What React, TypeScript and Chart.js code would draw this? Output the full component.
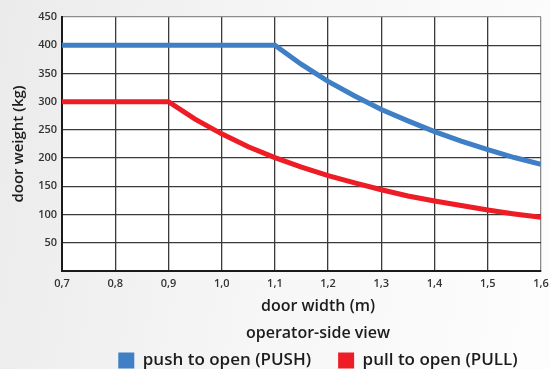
import React, { useEffect, useRef } from 'react';
import { Chart, registerables } from 'chart.js';

Chart.register(...registerables);

// ---- data ----
const xTickLabels = ['0,7', '0,8', '0,9', '1,0', '1,1', '1,2', '1,3', '1,4', '1,5', '1,6'];
const yTickLabels = ['', '50', '100', '150', '200', '250', '300', '350', '400', '450'];

const pushWidths = [0.7, 1.1, 1.15, 1.2, 1.25, 1.3, 1.35, 1.4, 1.45, 1.5, 1.55, 1.6];
const pushWeights = [400, 400, 366, 336, 310, 286, 266, 247, 230, 215, 201, 189];

const pullWidths = [0.7, 0.9, 0.95, 1.0, 1.05, 1.1, 1.15, 1.2, 1.25, 1.3, 1.35, 1.4, 1.45, 1.5, 1.55, 1.6];
const pullWeights = [300, 300, 269, 243, 220, 201, 184, 169, 156, 144, 133, 124, 116, 108, 101, 95];

const seriesLabels = ['push to open (PUSH)', 'pull to open (PULL)'];
const xTitle = 'door width (m)';
const xSubtitle = 'operator-side view';
const yTitle = 'door weight (kg)';

const BLUE = '#3f7fc6';
const RED = '#ee1c25';
const TEXT = '#1c1c1c';
const FONT = '"Open Sans", Roboto, sans-serif';

export default function App() {
  const ref = useRef<HTMLCanvasElement>(null);

  useEffect(() => {
    const canvas = ref.current!;
    const whiteArea = {
      id: 'whiteArea',
      beforeDraw(chart: any) {
        const { ctx, chartArea: a } = chart;
        ctx.save();
        ctx.fillStyle = '#ffffff';
        ctx.fillRect(a.left, a.top, a.right - a.left, a.bottom - a.top);
        ctx.restore();
      },
    };

    const chart = new Chart(canvas, {
      type: 'line',
      data: {
        datasets: [
          {
            label: seriesLabels[0],
            data: pushWidths.map((x, i) => ({ x, y: pushWeights[i] })),
            borderColor: BLUE,
            backgroundColor: BLUE,
            borderWidth: 5,
            pointRadius: 0,
            tension: 0,
            fill: false,
          },
          {
            label: seriesLabels[1],
            data: pullWidths.map((x, i) => ({ x, y: pullWeights[i] })),
            borderColor: RED,
            backgroundColor: RED,
            borderWidth: 5,
            pointRadius: 0,
            tension: 0,
            fill: false,
          },
        ],
      },
      options: {
        responsive: false,
        animation: false,
        devicePixelRatio: 1,
        layout: { padding: { left: 0, right: 0, top: 17, bottom: 0 } },
        plugins: {
          tooltip: { enabled: false },
          legend: {
            position: 'bottom',
            labels: {
              boxWidth: 16,
              boxHeight: 16,
              padding: 10,
              color: TEXT,
              font: { family: FONT, size: 17, weight: '600' },
              generateLabels: (c: any) =>
                c.data.datasets.map((ds: any, i: number) => ({
                  text: i === 0 ? ds.label + '\u2002\u2002' : ds.label,
                  fillStyle: ds.backgroundColor,
                  strokeStyle: ds.backgroundColor,
                  lineWidth: 0,
                  hidden: false,
                  datasetIndex: i,
                  fontColor: TEXT,
                })),
            },
          },
          title: {
            display: true,
            text: xTitle,
            position: 'bottom',
            weight: 10,
            padding: { top: 5, bottom: 0 },
            color: TEXT,
            font: { family: FONT, size: 16, weight: '600', lineHeight: '19px' },
          },
          subtitle: {
            display: true,
            text: xSubtitle,
            position: 'bottom',
            weight: 20,
            padding: { top: 8, bottom: 0 },
            color: TEXT,
            font: { family: FONT, size: 16, weight: '600', lineHeight: '18px' },
          },
        },
        scales: {
          x: {
            type: 'linear',
            min: 0.7,
            max: 1.6,
            ticks: {
              stepSize: 0.1,
              autoSkip: false,
              maxRotation: 0,
              padding: 6,
              color: '#333',
              font: { family: FONT, size: 11, weight: '600' },
              callback: (_v: any, i: number) => xTickLabels[i],
            },
            grid: {
              drawTicks: false,
              lineWidth: 1.3,
              color: (c: any) => (c.index === xTickLabels.length - 1 ? '#8c8c8c' : '#3a3a3a'),
            },
            border: { color: '#1a1a1a', width: 2 },
            afterFit: (s: any) => {
              s.height = 21;
            },
          },
          y: {
            type: 'linear',
            min: 0,
            max: 450,
            ticks: {
              stepSize: 50,
              padding: 5,
              color: '#333',
              font: { family: FONT, size: 11, weight: '600' },
              callback: (_v: any, i: number) => yTickLabels[i],
            },
            grid: {
              drawTicks: false,
              lineWidth: 1.3,
              color: (c: any) => (c.index === yTickLabels.length - 1 ? '#8c8c8c' : '#3a3a3a'),
            },
            border: { color: '#1a1a1a', width: 2 },
            title: {
              display: true,
              text: yTitle,
              color: TEXT,
              padding: { top: 10, bottom: 0 },
              font: { family: FONT, size: 15, weight: '600', lineHeight: 1.2 },
            },
            afterFit: (s: any) => {
              s.width = 62;
            },
          },
          pad: {
            type: 'linear',
            position: 'right',
            display: true,
            grid: { display: false },
            ticks: { display: false },
            border: { display: false },
            afterFit: (s: any) => {
              s.width = 95;
            },
          },
        },
      } as any,
      plugins: [whiteArea],
    });
    return () => chart.destroy();
  }, []);

  return (
    <div
      style={{
        position: 'fixed',
        left: 0,
        top: 0,
        width: 550,
        height: 369,
        overflow: 'hidden',
        background: 'linear-gradient(100deg, #ebebeb 0%, #f6f6f6 50%, #fdfdfd 100%)',
      }}
    >
      <canvas
        ref={ref}
        width={636}
        height={379}
        style={{ position: 'absolute', left: 0, top: 0, width: 636, height: 379 }}
      />
    </div>
  );
}
